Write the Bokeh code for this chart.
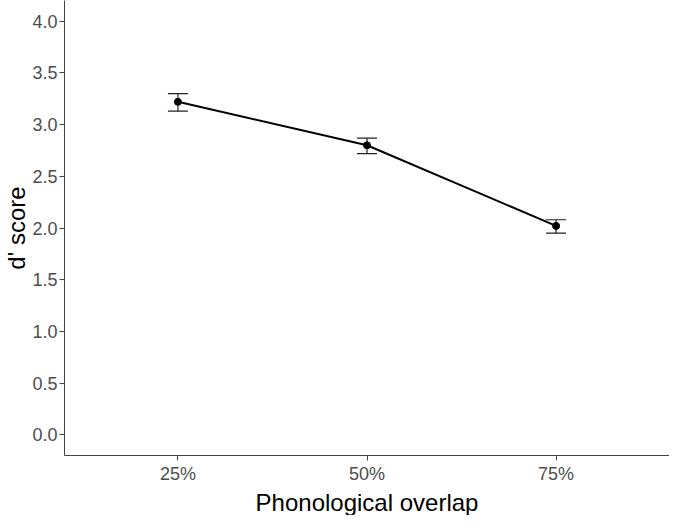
from bokeh.plotting import figure
from bokeh.models import (ColumnDataSource, FactorRange, Range1d, FixedTicker, PrintfTickFormatter,
                          Whisker, TeeHead, Title)
from bokeh.embed import file_html
from bokeh.resources import INLINE

# Data
categories = ["25%", "50%", "75%"]
d_score = [3.22, 2.80, 2.02]
upper = [3.30, 2.87, 2.08]
lower = [3.13, 2.72, 1.95]
y_ticks = [0.0, 0.5, 1.0, 1.5, 2.0, 2.5, 3.0, 3.5, 4.0]
x_title = "Phonological overlap"
y_title = "d' score"

source = ColumnDataSource(data=dict(cat=categories, d=d_score, upper=upper, lower=lower))

x_range = FactorRange(factors=categories, range_padding=0.1, range_padding_units="absolute")

p = figure(width=669, height=515, x_range=x_range, y_range=Range1d(-0.2, 4.2),
           output_backend="svg", toolbar_location=None,
           min_border_left=0, min_border_right=0, min_border_top=0, min_border_bottom=0)

p.outline_line_color = None
p.xgrid.visible = False
p.ygrid.visible = False
p.background_fill_color = "white"

tee_u = TeeHead(size=20, line_color="#222222", line_width=1.2)
tee_l = TeeHead(size=20, line_color="#222222", line_width=1.2)
w = Whisker(source=source, base="cat", upper="upper", lower="lower",
            upper_head=tee_u, lower_head=tee_l, line_color="#222222", line_width=1.2)
p.add_layout(w)

p.line(x="cat", y="d", source=source, line_color="black", line_width=2)
p.scatter(x="cat", y="d", source=source, size=7, fill_color="black", line_color="black")

font = "Liberation Sans"
for ax in (p.xaxis[0], p.yaxis[0]):
    ax.axis_line_color = "#444444"
    ax.axis_line_width = 1
    ax.major_tick_line_color = "#444444"
    ax.major_tick_line_width = 1
    ax.major_tick_out = 5
    ax.major_tick_in = 0
    ax.minor_tick_line_color = None
    ax.major_label_text_font = font
    ax.major_label_text_font_size = "18px"
    ax.major_label_text_color = "#4D4D4D"

p.yaxis.ticker = FixedTicker(ticks=y_ticks)
p.yaxis.formatter = PrintfTickFormatter(format="%.1f")
p.yaxis.major_label_standoff = 2
p.xaxis.major_label_standoff = 3

p.add_layout(Title(text=x_title, align="center", text_font=font, text_font_size="24px",
                   text_font_style="normal", text_color="black", standoff=0, offset=0), "below")
p.add_layout(Title(text=y_title, align="center", text_font=font, text_font_size="24px",
                   text_font_style="normal", text_color="black", standoff=0, offset=0), "left")

open("out.html", "w").write(file_html(p, INLINE))
